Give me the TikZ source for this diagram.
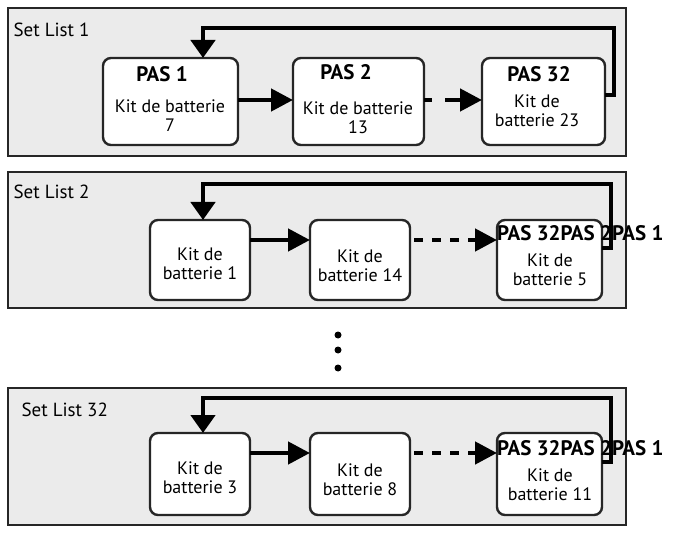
\documentclass[tikz,border=0pt]{standalone}
\usepackage{fontspec}
\setmainfont{PT Sans}
\usetikzlibrary{arrows.meta}
\begin{document}
\begin{tikzpicture}[x=1pt,y=-1pt,
  panel/.style={draw=black!85,line width=2pt,fill=black!8},
  box/.style={draw=black!85,line width=2.4pt,fill=white,rounded corners=8pt},
  arr/.style={line width=4.5pt,-{Triangle[length=22pt,width=22pt]}},
  loop/.style={line width=4.5pt,-{Triangle[length=18pt,width=24pt]}},
  dsh/.style={dash pattern=on 9pt off 9pt},
  ttl/.style={anchor=west,font=\fontsize{19}{19}\selectfont},
  pas/.style={font=\fontsize{21}{21}\selectfont\bfseries},
  kit/.style={align=center,font=\fontsize{18}{19}\selectfont}]
\useasboundingbox (0,0) rectangle (682,534);
% Panel 1
\draw[panel] (8,8) rectangle (626,156);
\node[ttl] (t1) at (10,30) {Set List 1};
\draw[box] (103,58) rectangle (238,145);
\draw[box] (293,58) rectangle (424,145);
\draw[box] (482,58) rectangle (605,145);
\node[pas] (p11) at (162,74) {PAS 1};
\node[kit] (k11) at (170,116) {Kit de batterie\\7};
\node[pas] (p12) at (346,72) {PAS 2};
\node[kit] (k12) at (358,118) {Kit de batterie\\13};
\node[pas] (p13) at (539,74) {PAS 32};
\node[kit] (k13) at (537,111) {Kit de\\batterie 23};
\draw[arr] (238,100) -- (293,100);
\draw[line width=4.5pt] (424,100) -- (432,100);
\draw[arr] (445,100) -- (482,100);
\draw[loop] (605,95) -- (614,95) -- (614,28) -- (203,28) -- (203,58);
% Panel 2
\draw[panel] (8,172) rectangle (626,308);
\node[ttl] (t2) at (10,192) {Set List 2};
\draw[box] (150,220) rectangle (250,300);
\draw[box] (310,220) rectangle (410,300);
\draw[box] (497,220) rectangle (602,300);
\node[kit] (k21) at (200,264) {Kit de\\batterie 1};
\node[kit] (k22) at (360,266) {Kit de\\batterie 14};
\node[kit] (k23) at (550,270) {Kit de\\batterie 5};
\draw[arr] (250,240) -- (310,240);
\draw[arr,dsh] (414,240) -- (497,240);
\draw[loop] (602,248) -- (611,248) -- (611,184) -- (203,184) -- (203,220);
\node[pas,anchor=west,inner sep=0pt] (p2) at (497,233) {PAS 32PAS 2PAS 1};
% dots
\foreach \yy in {335,350,368} \fill (338,\yy) circle (3.5pt);
% Panel 3
\draw[panel] (8,388) rectangle (626,525);
\node[ttl] (t3) at (18,410) {Set List 32};
\draw[box] (150,433) rectangle (250,515);
\draw[box] (310,433) rectangle (410,515);
\draw[box] (497,433) rectangle (602,515);
\node[kit] (k31) at (200,478) {Kit de\\batterie 3};
\node[kit] (k32) at (360,480) {Kit de\\batterie 8};
\node[kit] (k33) at (550,485) {Kit de\\batterie 11};
\draw[arr] (250,453) -- (310,453);
\draw[arr,dsh] (414,453) -- (497,453);
\draw[loop] (602,462) -- (611,462) -- (611,398) -- (203,398) -- (203,433);
\node[pas,anchor=west,inner sep=0pt] (p3) at (497,448) {PAS 32PAS 2PAS 1};
\end{tikzpicture}
\end{document}
